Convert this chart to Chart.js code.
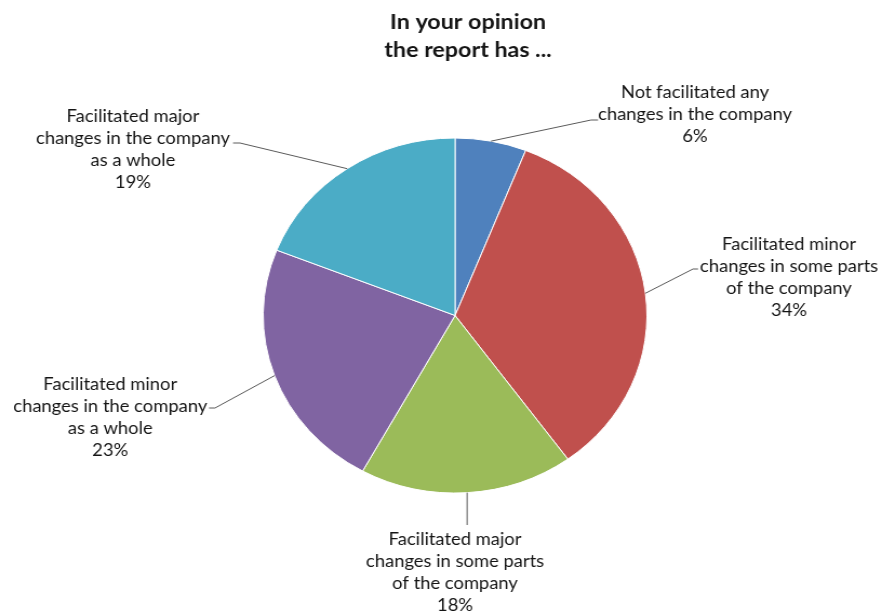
<!DOCTYPE html>
<html>
<head>
<meta charset="utf-8">
<script src="https://cdn.jsdelivr.net/npm/chart.js@4.4.0/dist/chart.umd.min.js"></script>
<style>
  html, body { margin: 0; padding: 0; background: #ffffff; overflow: hidden; }
  #wrap { width: 816px; height: 614px; transform: scaleX(1.0809); transform-origin: 0 0; }
  canvas { display: block; }
</style>
</head>
<body>
<div id="wrap"><canvas id="c" width="816" height="614"></canvas></div>
<script>
// Survey answers: share of respondents per answer (percent)
const titleLines = ['In your opinion', 'the report has ...'];
const categories = [
  ['Not facilitated any', 'changes in the company'],
  ['Facilitated minor', 'changes in some parts', 'of the company'],
  ['Facilitated major', 'changes in some parts', 'of the company'],
  ['Facilitated minor', 'changes in the company', 'as a whole'],
  ['Facilitated major', 'changes in the company', 'as a whole']
];
const shares = [6, 34, 18, 23, 19];
const colours = ['#4F81BD', '#C0504D', '#9BBB59', '#8064A2', '#4BACC6'];

// Where each callout sits: text centre, first line, and the leader's bend/end
// (a null x means "straight down from the slice")
const callouts = [
  { cx: 643, y: 93,  bend: [546.8, 120], end: [553.3, 120] },
  { cx: 730, y: 245, bend: [641.1, 269], end: [645.8, 269] },
  { cx: 421, y: 540, bend: [null, 525],  end: [null, 525] },
  { cx: 102, y: 385, bend: [198.9, 408], end: [193.4, 408] },
  { cx: 123, y: 117, bend: [222.0, 143], end: [215.6, 143] }
];
const LINE_H = 22;

const calloutPlugin = {
  id: 'callouts',
  afterDraw(chart) {
    const ctx = chart.ctx;
    const arcs = chart.getDatasetMeta(0).data;
    ctx.save();

    // title
    ctx.fillStyle = '#141414';
    ctx.textAlign = 'center';
    ctx.textBaseline = 'middle';
    ctx.font = 'bold 21.5px Lato, "Open Sans", sans-serif';
    titleLines.forEach((t, k) => ctx.fillText(t, 433, 22 + k * 28));

    // leader lines
    ctx.strokeStyle = '#5a5a5a';
    ctx.lineWidth = 1;
    arcs.forEach((arc, i) => {
      const p = arc.getProps(['x', 'y', 'startAngle', 'endAngle', 'outerRadius'], true);
      const mid = (p.startAngle + p.endAngle) / 2;
      const sx = p.x + Math.cos(mid) * p.outerRadius;
      const sy = p.y + Math.sin(mid) * p.outerRadius;
      const c = callouts[i];
      const bx = c.bend[0] === null ? sx : c.bend[0];
      const ex = c.end[0] === null ? sx : c.end[0];
      ctx.beginPath();
      ctx.moveTo(sx, sy);
      ctx.lineTo(bx, c.bend[1]);
      ctx.lineTo(ex, c.end[1]);
      ctx.stroke();
    });

    // label text
    ctx.font = '17px Lato, "Open Sans", sans-serif';
    ctx.fillStyle = '#141414';
    categories.forEach((lines, i) => {
      const c = callouts[i];
      const all = lines.concat([shares[i] + '%']);
      all.forEach((t, k) => ctx.fillText(t, c.cx, c.y + k * LINE_H));
    });
    ctx.restore();
  }
};

new Chart(document.getElementById('c'), {
  type: 'pie',
  data: {
    labels: categories.map(l => l.join(' ')),
    datasets: [{
      data: shares,
      backgroundColor: colours,
      borderColor: '#ffffff',
      borderWidth: 1
    }]
  },
  options: {
    responsive: false,
    animation: false,
    devicePixelRatio: 1,
    layout: { padding: { left: 243, right: 217, top: 137.5, bottom: 120.5 } },
    plugins: {
      legend: { display: false },
      tooltip: { enabled: false },
      title: { display: false }
    }
  },
  plugins: [calloutPlugin]
});
</script>
</body>
</html>
